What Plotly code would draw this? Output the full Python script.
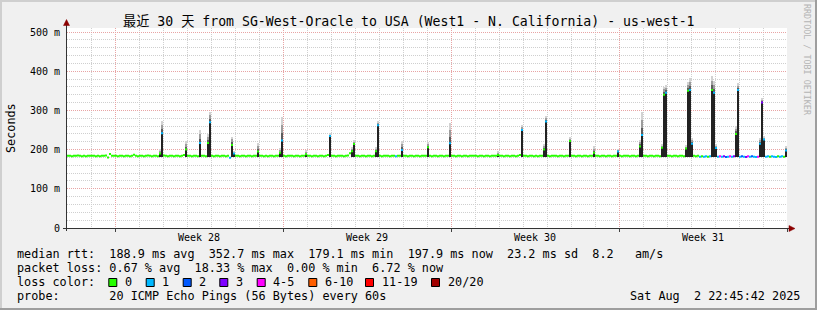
import plotly.graph_objects as go

# ---------------- data (2-hour samples, 12 per day, 30 days) ----------------
median_ms = [
    [184, 184, 183, 184, 184, 185, 184, 183, 184, 183, 184, 184],  # day 0
    [184, 184, 183, 184, 183, 184, 184, 185, 180, 189, 184, 184],
    [184, 183, 184, 184, 183, 184, 184, 183, 184, 187, 184, 183],
    [184, 184, 183, 184, 185, 184, 183, 184, 184, 183, 190, 242],
    [185, 184, 183, 184, 184, 183, 184, 184, 183, 184, 186, 200],
    [184, 184, 183, 184, 184, 183, 217, 184, 184, 183, 217, 270],
    [184, 183, 184, 184, 183, 184, 184, 183, 184, 179, 212, 190],
    [184, 184, 183, 184, 184, 183, 184, 184, 183, 184, 184, 195],
    [184, 184, 183, 184, 183, 184, 184, 183, 184, 184, 192, 223],
    [184, 183, 184, 184, 184, 183, 184, 184, 183, 184, 184, 188],
    [184, 184, 183, 184, 184, 183, 184, 184, 183, 184, 186, 235],  # day 10
    [184, 184, 183, 184, 184, 184, 183, 184, 185, 191, 196, 214],
    [184, 184, 183, 184, 184, 183, 184, 184, 183, 184, 196, 262],
    [184, 183, 184, 184, 184, 183, 184, 184, 183, 184, 184, 199],
    [184, 184, 183, 184, 184, 183, 184, 184, 183, 184, 184, 184],
    [206, 184, 183, 184, 184, 183, 184, 184, 183, 184, 184, 216],
    [184, 184, 183, 184, 184, 183, 184, 184, 183, 184, 184, 184],
    [184, 183, 184, 184, 183, 184, 184, 183, 184, 184, 184, 186],
    [184, 184, 183, 184, 184, 183, 184, 184, 183, 184, 186, 250],
    [184, 184, 183, 184, 184, 183, 184, 183, 184, 184, 200, 272],
    [184, 183, 184, 184, 184, 183, 184, 184, 183, 184, 184, 222],  # day 20
    [184, 184, 183, 184, 184, 183, 184, 184, 183, 184, 184, 192],
    [184, 184, 183, 184, 184, 183, 184, 184, 183, 184, 184, 195],
    [184, 183, 184, 184, 184, 183, 184, 184, 183, 184, 208, 237],
    [184, 184, 183, 184, 184, 183, 184, 184, 183, 205, 340, 345],
    [184, 184, 183, 184, 184, 183, 184, 184, 183, 203, 350, 352],
    [215, 184, 183, 184, 182, 183, 182, 183, 182, 183, 352, 345],
    [204, 182, 183, 182, 183, 181, 182, 183, 182, 183, 240, 352],
    [182, 183, 182, 181, 183, 182, 183, 182, 181, 182, 215, 320],
    [226, 182, 183, 182, 183, 182, 181, 183, 182, 183, 182, 198],  # day 29
]

# lost pings (out of 20) per sample, one string per day
loss_count = [
    "000000000000", "000000000000", "000000000000", "000000000001",
    "000000000000", "000000100001", "000000000101", "000000000000",
    "000000000001", "000000000000", "000000000001", "000000000000",
    "000000000001", "000000001001", "000000000000", "000000000001",
    "000000000000", "000000000000", "000000000001", "000000000001",
    "000000000000", "000000000000", "000000000001", "000000000001",
    "000000000001", "000000000001", "100010110101", "114132141301",
    "121341211413", "111011101101",
]

# smoke (ping spread) where it is visible
smoke_day  = [3, 3, 4, 5, 5, 5, 6, 6, 7, 8, 8, 9, 10, 11, 11, 12, 12, 13, 15, 15,
              17, 18, 19, 19, 20, 21, 22, 23, 23, 24, 24, 24, 25, 25, 25, 26, 26, 26,
              27, 27, 27, 28, 28, 29, 29]
smoke_slot = [10, 11, 11, 6, 10, 11, 10, 11, 11, 10, 11, 11, 11, 10, 11, 10, 11, 11, 0, 11,
              11, 11, 10, 11, 11, 11, 11, 10, 11, 9, 10, 11, 9, 10, 11, 0, 10, 11,
              0, 10, 11, 10, 11, 0, 11]
smoke_min  = [182] * 45
smoke_max  = [200, 272, 222, 250, 240, 297, 233, 195, 217, 205, 284, 197, 240, 205, 225, 205, 272, 222, 220, 268,
              196, 262, 215, 287, 233, 208, 201, 225, 295, 215, 360, 365, 210, 372, 383, 230, 387, 375,
              215, 260, 369, 230, 332, 235, 209]

loss_labels = ["0", "1", "2", "3", "4-5", "6-10", "11-19", "20/20"]
loss_colors = ["#26ff00", "#00b8ff", "#0059ff", "#7e00ff", "#ff00ff", "#ff5e00", "#ff0000", "#a10000"]
loss_upper = [0, 1, 2, 3, 5, 10, 19, 20]

y_tick_vals = [0, 100, 200, 300, 400, 500]
y_tick_text = ["0", "100 m", "200 m", "300 m", "400 m", "500 m"]
week_label_days = [5.5, 12.5, 19.5, 26.5]
week_labels = ["Week 28", "Week 29", "Week 30", "Week 31"]

title_text = "最近 30 天 from SG-West-Oracle to USA (West1 - N. California) - us-west-1"
legend_lines = [
    "median rtt:  188.9 ms avg  352.7 ms max  179.1 ms min  197.9 ms now  23.2 ms sd  8.2   am/s",
    "packet loss: 0.67 % avg  18.33 % max  0.00 % min  6.72 % now",
    "loss color:",
    "probe:       20 ICMP Echo Pings (56 Bytes) every 60s",
]
timestamp_text = "Sat Aug  2 22:45:42 2025"
watermark_text = "RRDTOOL / TOBI OETIKER"

# ---------------- geometry / style ----------------
W, H = 817, 310
L, R, T, B = 67, 787, 28, 228
STEP = 1 / 12
MONO = "DejaVu Sans Mono, Noto Sans CJK SC, monospace"


def px(x):
    return (x - L) / (R - L)


def py(y):
    return (B - y) / (B - T)


def nb(s):
    return s.replace(" ", "\u00a0")


def loss_class(n):
    for k, u in enumerate(loss_upper):
        if n <= u:
            return k
    return len(loss_upper) - 1


fig = go.Figure()

# smoke: grey bands above the median, dark core below it
band_colors = ["#5c5c5c", "#9c9c9c", "#d2d2d2"]
sx = [d + s * STEP + STEP / 2 for d, s in zip(smoke_day, smoke_slot)]
smed = [median_ms[d][s] for d, s in zip(smoke_day, smoke_slot)]
for j, col in enumerate(band_colors):
    lo = [m + max(mx - m, 0) * j / 3 for m, mx in zip(smed, smoke_max)]
    hi = [m + max(mx - m, 0) * (j + 1) / 3 for m, mx in zip(smed, smoke_max)]
    fig.add_trace(go.Bar(x=sx, y=[h - l for h, l in zip(hi, lo)], base=lo, width=STEP,
                         marker=dict(color=col, line=dict(width=0)), hoverinfo="skip"))
fig.add_trace(go.Bar(x=sx, y=[m - mn for m, mn in zip(smed, smoke_min)], base=smoke_min, width=STEP,
                     marker=dict(color="#222222", line=dict(width=0)), hoverinfo="skip"))

# median line, coloured by packet loss
seg_x = {k: [] for k in range(len(loss_labels))}
seg_y = {k: [] for k in range(len(loss_labels))}
for d in range(len(median_ms)):
    for s in range(12):
        t0 = d + s * STEP
        k = loss_class(int(loss_count[d][s]))
        seg_x[k] += [t0, t0 + STEP, None]
        seg_y[k] += [median_ms[d][s], median_ms[d][s], None]
for k in range(len(loss_labels)):
    if seg_x[k]:
        fig.add_trace(go.Scatter(x=seg_x[k], y=seg_y[k], mode="lines",
                                 line=dict(color=loss_colors[k], width=2),
                                 connectgaps=False, hoverinfo="skip"))

fig.update_layout(
    width=W, height=H, autosize=False,
    margin=dict(l=L, r=W - R, t=T, b=H - B, pad=0),
    paper_bgcolor="#f0f0f0", plot_bgcolor="#ffffff",
    barmode="overlay", bargap=0, showlegend=False,
    font=dict(family=MONO, color="#000000"),
)
fig.update_xaxes(
    range=[0, 30], tickmode="linear", tick0=2, dtick=7,
    showticklabels=False, ticks="outside", ticklen=3, tickcolor="#404040",
    showgrid=True, gridcolor="#e8a4a4", griddash="1px,1px", gridwidth=1,
    minor=dict(tickmode="linear", tick0=0, dtick=1, showgrid=True,
               gridcolor="#cfcfcf", griddash="1px,1px", gridwidth=1, ticks=""),
    zeroline=False, showline=False, fixedrange=True,
)
fig.update_yaxes(
    range=[0, 510.2], tickmode="array", tickvals=y_tick_vals, ticktext=y_tick_text,
    ticks="", ticklabelstandoff=6, tickfont=dict(family=MONO, size=10, color="#000"),
    showgrid=True, gridcolor="#e8a4a4", griddash="1px,1px", gridwidth=1,
    minor=dict(tickmode="linear", tick0=0, dtick=20, showgrid=True,
               gridcolor="#cfcfcf", griddash="1px,1px", gridwidth=1, ticks=""),
    zeroline=False, showline=False, fixedrange=True,
)

shapes = []
# frame shading
shapes.append(dict(type="rect", xref="paper", yref="paper", x0=px(0), x1=px(W), y0=py(0), y1=py(2),
                   fillcolor="#cfcfcf", line=dict(width=0), layer="above"))
shapes.append(dict(type="rect", xref="paper", yref="paper", x0=px(0), x1=px(2), y0=py(0), y1=py(H),
                   fillcolor="#cfcfcf", line=dict(width=0), layer="above"))
shapes.append(dict(type="rect", xref="paper", yref="paper", x0=px(0), x1=px(W), y0=py(H - 2), y1=py(H),
                   fillcolor="#9e9e9e", line=dict(width=0), layer="above"))
shapes.append(dict(type="rect", xref="paper", yref="paper", x0=px(W - 2), x1=px(W), y0=py(0), y1=py(H),
                   fillcolor="#9e9e9e", line=dict(width=0), layer="above"))
# axes with arrows
shapes.append(dict(type="line", xref="paper", yref="paper", x0=px(63), x1=px(790), y0=py(228.5), y1=py(228.5),
                   line=dict(color="#333333", width=1), layer="above"))
shapes.append(dict(type="line", xref="paper", yref="paper", x0=px(66.5), x1=px(66.5), y0=py(231), y1=py(24),
                   line=dict(color="#333333", width=1), layer="above"))
shapes.append(dict(type="path", xref="paper", yref="paper",
                   path=f"M {px(63.5)},{py(25.5)} L {px(69.5)},{py(25.5)} L {px(66.5)},{py(19.5)} Z",
                   fillcolor="#8b0000", line=dict(color="#8b0000", width=0.5), layer="above"))
shapes.append(dict(type="path", xref="paper", yref="paper",
                   path=f"M {px(789)},{py(225.5)} L {px(789)},{py(231.5)} L {px(795)},{py(228.5)} Z",
                   fillcolor="#8b0000", line=dict(color="#8b0000", width=0.5), layer="above"))

annotations = []
annotations.append(dict(text=nb(title_text), xref="paper", yref="paper", x=px(408.5), y=py(21),
                        xanchor="center", yanchor="middle", showarrow=False, borderpad=0,
                        font=dict(family=MONO, size=13.2, color="#000")))
annotations.append(dict(text="Seconds", xref="paper", yref="paper", x=px(11), y=py(128),
                        xanchor="center", yanchor="middle", textangle=-90, showarrow=False, borderpad=0,
                        font=dict(family=MONO, size=11.8, color="#000")))
annotations.append(dict(text=nb(watermark_text), xref="paper", yref="paper", x=px(807), y=py(60),
                        xanchor="center", yanchor="middle", textangle=90, showarrow=False, borderpad=0,
                        font=dict(family=MONO, size=8.4, color="#b4b4b4")))
for xd, lab in zip(week_label_days, week_labels):
    annotations.append(dict(text=nb(lab), xref="x", yref="paper", x=xd, y=py(237.5),
                            xanchor="center", yanchor="middle", showarrow=False, borderpad=0,
                            font=dict(family=MONO, size=10, color="#000")))
line_y = [254.3, 268.3, 282.3, 296.3]
for txt, yy in zip(legend_lines, line_y):
    annotations.append(dict(text=nb(txt), xref="paper", yref="paper", x=px(16), y=py(yy),
                            xanchor="left", yanchor="middle", showarrow=False, borderpad=0,
                            font=dict(family=MONO, size=11.8, color="#000")))
annotations.append(dict(text=nb(timestamp_text), xref="paper", yref="paper", x=px(801), y=py(296.3),
                        xanchor="right", yanchor="middle", showarrow=False, borderpad=0,
                        font=dict(family=MONO, size=11.8, color="#000")))
box_x = [108.3, 145.7, 182.7, 219.3, 256.7, 308.3, 365, 431]
for bx, lab, col in zip(box_x, loss_labels, loss_colors):
    shapes.append(dict(type="rect", xref="paper", yref="paper", x0=px(bx + 0.5), x1=px(bx + 8.5),
                       y0=py(278.5), y1=py(286.5), fillcolor=col, line=dict(color="#000", width=1),
                       layer="above"))
    annotations.append(dict(text=nb(lab), xref="paper", yref="paper", x=px(bx + 15.7), y=py(282.3),
                            xanchor="left", yanchor="middle", showarrow=False, borderpad=0,
                            font=dict(family=MONO, size=11.8, color="#000")))

fig.update_layout(shapes=shapes, annotations=annotations)
fig.write_html("out.html")
